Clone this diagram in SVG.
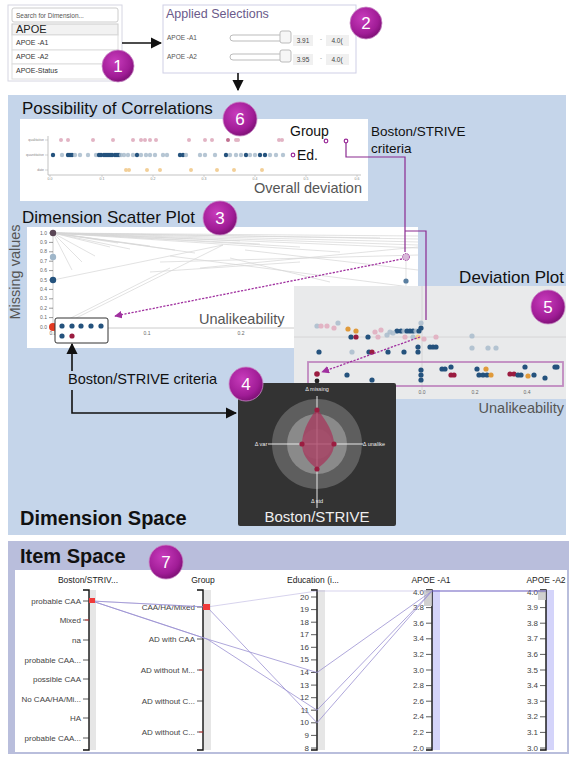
<svg xmlns="http://www.w3.org/2000/svg" width="571" height="757" viewBox="0 0 571 757">
<defs>
<radialGradient id="bg" cx="40%" cy="35%" r="70%">
<stop offset="0" stop-color="#c83cbc"/><stop offset="0.7" stop-color="#a01c96"/><stop offset="1" stop-color="#780e70"/>
</radialGradient>
<marker id="ah" viewBox="0 0 10 10" refX="9" refY="5" markerWidth="7" markerHeight="7" orient="auto-start-reverse"><path d="M0,0 L10,5 L0,10 Z" fill="#111"/></marker>
<marker id="ap" viewBox="0 0 10 10" refX="9" refY="5" markerWidth="6" markerHeight="6" orient="auto"><path d="M0,0 L10,5 L0,10 Z" fill="#a0309f"/></marker>
<style>
text{font-family:"Liberation Sans",Arial,sans-serif}
.badge circle{fill:url(#bg);stroke:#c98ac6;stroke-width:0.8}
.badge text{fill:#fff;font-size:17px;text-anchor:middle}
.ttl{font-size:17px;fill:#111}
.big{font-size:20px;font-weight:bold;fill:#111}
.gl{font-size:14.5px;fill:#555}
.tiny{font-size:3.5px;fill:#888}
.sm{font-size:5px;fill:#666}
.db{fill:#24527d}.lb{fill:#a9bccd;opacity:.85}.rd{fill:#9b1c40}.or{fill:#e09a3a}.pk{fill:#e2b4c4}.yl{fill:#f2cf98}
.gline{stroke:#d6d6d6;stroke-width:0.7;fill:none}
.pc{stroke:#9a90d2;stroke-width:0.8;fill:none}
.ax{stroke:#111;stroke-width:1.4;fill:none}
.tk{stroke:#333;stroke-width:0.8}
.lab{font-size:8px;fill:#444;text-anchor:end}
.hd{font-size:8.5px;fill:#222;text-anchor:middle}
.blk{stroke:#111;stroke-width:1.6;fill:none}
.pur{stroke:#8a2a90;stroke-width:1.2;fill:none}
.dot{stroke:#a0309f;stroke-width:1.3;fill:none;stroke-dasharray:2.2 1.4}
.rl{font-size:5.5px;fill:#eee;text-anchor:middle}
</style>
</defs>
<rect width="571" height="757" fill="#fff"/>

<g id="search-panel">
<rect x="8" y="5" width="114" height="76" fill="#fff" stroke="#d6d6e2"/>
<rect x="12" y="8" width="106" height="14" rx="2" fill="#fff" stroke="#ccc"/>
<text x="16" y="17.5" font-size="6.5" fill="#555">Search for Dimension...</text>
<rect x="12" y="24" width="106" height="11" fill="#f2f2f2" stroke="#ccc"/>
<text x="16" y="32.5" font-size="11" fill="#222">APOE</text>
<rect x="12" y="35" width="106" height="15" fill="#fff" stroke="#ddd"/>
<text x="16" y="45" font-size="7" fill="#333">APOE -A1</text>
<rect x="12" y="50" width="106" height="14" fill="#fff" stroke="#ddd"/>
<text x="16" y="59" font-size="7" fill="#333">APOE -A2</text>
<rect x="12" y="64" width="106" height="15" fill="#fff" stroke="#ddd"/>
<text x="16" y="73" font-size="7" fill="#333">APOE-Status</text>
</g>

<g id="applied-selections">
<rect x="163" y="5" width="193" height="68" fill="#fff" stroke="#cfcfe6"/>
<text x="166" y="18" font-size="12.5" fill="#6a5a8a">Applied Selections</text>
<text x="167" y="40" font-size="6.5" fill="#555">APOE -A1</text>
<rect x="230" y="35" width="55" height="6" rx="3" fill="#fff" stroke="#bbb"/>
<rect x="280" y="31" width="11" height="12" rx="2" fill="#f6f6f6" stroke="#bbb"/>
<rect x="293" y="35" width="20" height="11" fill="#f0f0f0"/>
<text x="303" y="43" font-size="6.5" fill="#444" text-anchor="middle">3.91</text>
<text x="321" y="41" font-size="6" fill="#777" text-anchor="middle">-</text>
<rect x="326" y="35" width="23" height="11" fill="#f0f0f0"/>
<text x="337" y="43" font-size="6.5" fill="#444" text-anchor="middle">4.0(</text>
<text x="167" y="59" font-size="6.5" fill="#555">APOE -A2</text>
<rect x="230" y="54" width="55" height="6" rx="3" fill="#fff" stroke="#bbb"/>
<rect x="280" y="50" width="11" height="12" rx="2" fill="#f6f6f6" stroke="#bbb"/>
<rect x="293" y="54" width="20" height="11" fill="#f0f0f0"/>
<text x="303" y="62" font-size="6.5" fill="#444" text-anchor="middle">3.95</text>
<text x="321" y="60" font-size="6" fill="#777" text-anchor="middle">-</text>
<rect x="326" y="54" width="23" height="11" fill="#f0f0f0"/>
<text x="337" y="62" font-size="6.5" fill="#444" text-anchor="middle">4.0(</text>
</g>

<g id="dimension-space">
<rect x="8" y="95" width="558" height="440" fill="#c5d5ea"/>
<text class="big" x="20" y="525">Dimension Space</text>
</g>

<g id="correlations">
<text class="ttl" x="22" y="114">Possibility of Correlations</text>
<rect x="20" y="119" width="348" height="82" fill="#fff"/>
<path d="M48,136 V175 H361" stroke="#aaa" stroke-width="0.7" fill="none"/>
<path d="M45,140 H48 M45,155 H48 M45,170 H48 M50,175 V177 M102,175 V177 M153,175 V177 M204,175 V177 M255,175 V177 M306,175 V177 M357,175 V177" stroke="#aaa" stroke-width="0.5"/>
<text class="tiny" x="44" y="141" text-anchor="end">qualitative</text>
<text class="tiny" x="44" y="156" text-anchor="end">quantitative</text>
<text class="tiny" x="44" y="171" text-anchor="end">date</text>
<g class="tiny" text-anchor="middle">
<text x="50" y="180">0.0</text><text x="102" y="180">0.1</text><text x="153" y="180">0.2</text><text x="204" y="180">0.3</text><text x="255" y="180">0.4</text><text x="306" y="180">0.5</text><text x="357" y="180">0.6</text>
</g>
<g class="pk">
<circle cx="61" cy="140" r="2"/><circle cx="68" cy="140" r="2"/><circle cx="93" cy="140" r="2"/><circle cx="113" cy="140" r="2"/><circle cx="133" cy="140" r="2"/><circle cx="141" cy="140" r="2"/><circle cx="145" cy="140" r="2"/><circle cx="150" cy="140" r="2"/><circle cx="156" cy="140" r="2"/><circle cx="189" cy="140" r="2"/><circle cx="205" cy="140" r="2"/><circle cx="212" cy="140" r="2"/><circle cx="236" cy="140" r="2"/><circle cx="238" cy="140" r="2"/><circle cx="279" cy="140" r="2"/><circle cx="282" cy="140" r="2"/>
</g>
<circle cx="228" cy="140" r="2" fill="#c07090"/>
<g>
<circle class="db" cx="53" cy="155" r="2.2"/><circle class="lb" cx="62" cy="155" r="2.2"/><circle class="db" cx="68" cy="155" r="2.2"/><circle class="db" cx="70" cy="155" r="2.2"/><circle class="db" cx="72" cy="155" r="2.2"/><circle class="lb" cx="75" cy="155" r="2.2"/><circle class="lb" cx="80" cy="155" r="2.2"/><circle class="lb" cx="88" cy="155" r="2.2"/><circle class="lb" cx="96" cy="155" r="2.2"/><circle class="db" cx="99" cy="155" r="2.2"/><circle class="db" cx="101" cy="155" r="2.2"/><circle class="db" cx="104" cy="155" r="2.2"/><circle class="db" cx="106" cy="155" r="2.2"/><circle class="db" cx="108" cy="155" r="2.2"/><circle class="db" cx="110" cy="155" r="2.2"/><circle class="db" cx="112" cy="155" r="2.2"/><circle class="db" cx="115" cy="155" r="2.2"/><circle class="db" cx="117" cy="155" r="2.2"/><circle class="db" cx="119" cy="155" r="2.2"/><circle class="lb" cx="121" cy="155" r="2.2"/><circle class="lb" cx="124" cy="155" r="2.2"/><circle class="lb" cx="128" cy="155" r="2.2"/><circle class="lb" cx="133" cy="155" r="2.2"/><circle class="db" cx="137" cy="155" r="2.2"/><circle class="lb" cx="141" cy="155" r="2.2"/><circle class="lb" cx="146" cy="155" r="2.2"/><circle class="lb" cx="150" cy="155" r="2.2"/><circle class="lb" cx="155" cy="155" r="2.2"/><circle class="lb" cx="163" cy="155" r="2.2"/><circle class="lb" cx="167" cy="155" r="2.2"/><circle class="db" cx="180" cy="155" r="2.2"/><circle class="db" cx="183" cy="155" r="2.2"/><circle class="lb" cx="186" cy="155" r="2.2"/><circle class="lb" cx="200" cy="155" r="2.2"/><circle class="lb" cx="205" cy="155" r="2.2"/><circle class="lb" cx="215" cy="155" r="2.2"/><circle class="db" cx="226" cy="155" r="2.2"/><circle class="lb" cx="230" cy="155" r="2.2"/><circle class="lb" cx="236" cy="155" r="2.2"/><circle class="lb" cx="241" cy="155" r="2.2"/><circle class="db" cx="246" cy="155" r="2.2"/><circle class="lb" cx="250" cy="155" r="2.2"/><circle class="lb" cx="255" cy="155" r="2.2"/><circle class="db" cx="260" cy="155" r="2.2"/><circle class="db" cx="265" cy="155" r="2.2"/><circle class="lb" cx="270" cy="155" r="2.2"/><circle class="lb" cx="276" cy="155" r="2.2"/><circle class="lb" cx="283" cy="155" r="2.2"/>
</g>
<g class="yl">
<circle cx="126" cy="170" r="2"/><circle cx="129" cy="170" r="2"/><circle cx="147" cy="170" r="2"/><circle cx="160" cy="170" r="2"/><circle cx="191" cy="170" r="2"/><circle cx="217" cy="170" r="2"/><circle cx="234" cy="170" r="2"/><circle cx="262" cy="170" r="2"/>
</g>
<text x="290" y="136" font-size="14" fill="#111">Group</text>
<circle cx="326" cy="141" r="1.8" fill="#fff" stroke="#9a2a98" stroke-width="1.2"/>
<circle cx="346" cy="141" r="1.8" fill="#fff" stroke="#9a2a98" stroke-width="1.2"/>
<circle cx="293" cy="155" r="1.8" fill="#fff" stroke="#9a2a98" stroke-width="1.2"/>
<text x="297" y="160" font-size="14" fill="#111">Ed.</text>
<text class="gl" x="362" y="193" text-anchor="end">Overall deviation</text>
<text x="371" y="136" font-size="13.5" fill="#111">Boston/STRIVE</text>
<text x="371" y="153" font-size="13.5" fill="#111">criteria</text>
</g>

<g id="scatter-plot">
<text class="ttl" x="22" y="223">Dimension Scatter Plot</text>
<text class="gl" x="20" y="272" text-anchor="middle" transform="rotate(-90 20 272)" fill="#777">Missing values</text>
<rect x="27" y="227" width="391" height="121" fill="#fff"/>
<g class="gline">
<path d="M53,233 L418,236 M53,233 L418,239 M53,233 L418,242 M53,233 L418,245 M53,233 L418,248 M53,233 L340,252 M53,233 L300,247 M53,233 L260,244 M53,233 L195,253 M53,233 L175,250 M53,233 L150,246 M53,233 L130,249 M53,233 L110,247 M53,233 L95,256 M53,233 L82,262 M53,233 L72,270 M53,233 L118,243 M53,233 L240,241 M53,233 L380,238"/>
<path d="M53,280 L223,245 M62,325 L223,245 M160,262 L418,255 M200,268 L418,247 M170,256 L418,288 M230,258 L330,282 M245,250 L418,270 M150,272 L300,262 M53,327 L170,268 M406,257 V348"/>
</g>
<path d="M53,233 V328 H294" stroke="#ccc" stroke-width="1" fill="none"/>
<path d="M49,233 H53 M49,242.4 H53 M49,251.8 H53 M49,261.2 H53 M49,270.6 H53 M49,280 H53 M49,289.4 H53 M49,298.8 H53 M49,308.2 H53 M49,317.6 H53 M49,327 H53" stroke="#555" stroke-width="0.6"/>
<g class="sm" text-anchor="end">
<text x="47" y="234.5">1.0</text><text x="47" y="243.9">0.9</text><text x="47" y="253.3">0.8</text><text x="47" y="262.7">0.7</text><text x="47" y="272.1">0.6</text><text x="47" y="281.5">0.5</text><text x="47" y="290.9">0.4</text><text x="47" y="300.3">0.3</text><text x="47" y="309.7">0.2</text><text x="47" y="319.1">0.1</text><text x="47" y="328.5">0.0</text>
</g>
<g class="sm" text-anchor="middle"><text x="53" y="335">0.0</text><text x="147" y="335">0.1</text><text x="241" y="335">0.2</text></g>
<text class="gl" x="199" y="324">Unalikeability</text>
<circle cx="53" cy="233" r="3.2" fill="#5a4656"/>
<circle cx="53" cy="257" r="3.2" fill="#9fb6c9"/>
<circle cx="53" cy="280" r="3.2" class="db"/>
<circle cx="53" cy="327" r="4" fill="#e23a22"/>
<circle cx="406" cy="281" r="2.6" fill="#5a7fa0"/>
<circle cx="406" cy="257" r="3.5" fill="#d8b8d8" stroke="#a040a0" stroke-width="1" stroke-dasharray="1.5 1"/>
</g>

<g id="deviation-plot">
<text class="ttl" x="564" y="283" text-anchor="end">Deviation Plot</text>
<rect x="294" y="286" width="272" height="113" fill="#e9eaeb"/>
<path d="M294,337 H566 M422,286 V390" stroke="#d0d0d0" stroke-width="0.8"/>
<g>
<circle class="lb" cx="317" cy="326" r="2.6"/><circle class="pk" cx="321" cy="326" r="2.6"/><circle class="pk" cx="327" cy="326" r="2.6"/><circle class="pk" cx="334" cy="328" r="2.6"/><circle class="lb" cx="338" cy="323" r="2.6"/><circle class="or" cx="348" cy="329" r="2.6"/><circle class="or" cx="356" cy="331" r="2.6"/><circle class="pk" cx="375" cy="332" r="2.6"/><circle class="pk" cx="381" cy="330" r="2.6"/><circle class="lb" cx="390" cy="332" r="2.6"/>
<circle class="db" cx="397" cy="331" r="2.6"/><circle class="db" cx="401" cy="331" r="2.6"/><circle class="lb" cx="404" cy="331" r="2.6"/><circle class="db" cx="407" cy="331" r="2.6"/><circle class="db" cx="410" cy="331" r="2.6"/><circle class="db" cx="413" cy="331" r="2.6"/><circle class="lb" cx="416" cy="331" r="2.6"/><circle class="db" cx="419" cy="331" r="2.6"/><circle class="db" cx="421" cy="328" r="2.6"/><circle class="lb" cx="421" cy="323" r="2.6"/>
<circle class="db" cx="351" cy="337" r="2.6"/><circle class="rd" cx="356" cy="337" r="2.6"/><circle class="db" cx="368" cy="337" r="2.6"/><circle class="pk" cx="378" cy="337" r="2.6"/><circle class="lb" cx="387" cy="335" r="2.6"/><circle class="lb" cx="393" cy="333" r="2.6"/><circle class="pk" cx="405" cy="337" r="2.6"/><circle class="lb" cx="413" cy="337" r="2.6"/><circle class="yl" cx="418" cy="337" r="2.6"/><circle class="pk" cx="424" cy="339" r="2.6"/><circle class="pk" cx="436" cy="337" r="2.6"/><circle class="lb" cx="472" cy="336" r="2.6"/>
<circle class="db" cx="418" cy="347" r="2.6"/><circle class="db" cx="430" cy="347" r="2.6"/><circle class="db" cx="433" cy="347" r="2.6"/><circle class="db" cx="436" cy="347" r="2.6"/><circle class="lb" cx="472" cy="348" r="2.6"/><circle class="lb" cx="488" cy="348" r="2.6"/><circle class="lb" cx="496" cy="348" r="2.6"/>
<circle class="db" cx="319" cy="352" r="2.6"/><circle class="lb" cx="352" cy="352" r="2.6"/><circle class="db" cx="369" cy="352" r="2.6"/><circle class="rd" cx="372" cy="352" r="2.6"/><circle class="db" cx="388" cy="352" r="2.6"/><circle class="db" cx="404" cy="352" r="2.6"/><circle class="db" cx="418" cy="352" r="2.6"/>
</g>
<rect x="308" y="362" width="255" height="24" fill="none" stroke="#c08ac0" stroke-width="1.8"/>
<g>
<circle class="db" cx="421" cy="370" r="2.6"/><circle class="db" cx="442" cy="369" r="2.6"/><circle class="db" cx="445" cy="369" r="2.6"/><circle class="db" cx="451" cy="367" r="2.6"/><circle class="db" cx="477" cy="369" r="2.6"/><circle class="or" cx="486" cy="369" r="2.6"/><circle class="db" cx="525" cy="367" r="2.6"/><circle class="db" cx="555" cy="367" r="2.6"/><circle class="db" cx="557" cy="367" r="2.6"/>
<circle class="rd" cx="317" cy="374" r="2.8"/><circle class="db" cx="347" cy="375" r="2.6"/><circle class="db" cx="421" cy="375" r="2.6"/><circle class="rd" cx="451" cy="375" r="2.6"/><circle class="rd" cx="454" cy="375" r="2.6"/><circle class="db" cx="479" cy="375" r="2.6"/><circle class="db" cx="483" cy="375" r="2.6"/><circle class="db" cx="487" cy="375" r="2.6"/><circle class="or" cx="491" cy="375" r="2.6"/><circle class="rd" cx="510" cy="374" r="2.6"/><circle class="rd" cx="514" cy="374" r="2.6"/><circle class="db" cx="518" cy="375" r="2.6"/><circle class="db" cx="521" cy="375" r="2.6"/><circle class="or" cx="528" cy="376" r="2.6"/><circle class="db" cx="534" cy="375" r="2.6"/>
<circle class="db" cx="372" cy="380" r="2.6"/><circle class="db" cx="421" cy="380" r="2.6"/><circle class="db" cx="545" cy="378" r="2.6"/><circle cx="317" cy="381" r="2.4" fill="#222"/>
</g>
<g class="sm" text-anchor="middle"><text x="422" y="394">0.0</text><text x="475" y="394">0.2</text><text x="527" y="394">0.4</text></g>
<text class="gl" x="564" y="413" text-anchor="end">Unalikeability</text>
</g>

<g id="radar">
<rect x="238" y="383" width="158" height="143" rx="2" fill="#333"/>
<circle cx="317" cy="444" r="45" fill="#5e5e5e"/>
<circle cx="317" cy="444" r="30" fill="#8a8a8a"/>
<circle cx="317" cy="444" r="15" fill="#979797"/>
<path d="M317,396 V508 M268,444 H363" stroke="#e6e6e6" stroke-width="1"/>
<path d="M317,409 C327,421 334,434 334,444 C334,454 327,461 317,469 C307,461 302,454 302,444 C302,434 307,421 317,409 Z" fill="#a8335a" fill-opacity="0.72"/>
<g fill="#9b1c40"><circle cx="317" cy="410" r="2.6"/><circle cx="334" cy="444" r="2.6"/><circle cx="317" cy="469" r="2.6"/><circle cx="302" cy="444" r="2.6"/></g>
<text class="rl" x="317" y="391">Δ missing</text>
<text class="rl" x="317" y="503">Δ std</text>
<text class="rl" x="261" y="446">Δ var</text>
<text class="rl" x="374" y="446">Δ unalike</text>
<text x="317" y="522" font-size="15" fill="#eee" text-anchor="middle">Boston/STRIVE</text>
</g>

<g id="item-space">
<rect x="8" y="541" width="561" height="213" fill="#b9bedc"/>
<text class="big" x="20" y="563">Item Space</text>
<rect x="15" y="570" width="552" height="182" fill="#fff"/>
<rect x="89" y="590" width="7" height="160" fill="#e6e6e6"/>
<rect x="203" y="590" width="8" height="160" fill="#e6e6e6"/>
<rect x="317" y="590" width="8" height="160" fill="#e6e6e6"/>
<rect x="432" y="590" width="8" height="160" fill="#d4d4fa"/>
<rect x="546" y="590" width="8" height="160" fill="#d4d4fa"/>
<text class="hd" x="88" y="583">Boston/STRIV...</text>
<text class="hd" x="203" y="583">Group</text>
<text class="hd" x="313" y="583">Education (i...</text>
<text class="hd" x="431" y="583">APOE -A1</text>
<text class="hd" x="546" y="583">APOE -A2</text>
<path class="ax" d="M83,590 H89 V750 H83"/>
<path class="ax" d="M197,590 H203 V750 H197"/>
<path class="ax" d="M311,590 H317 V750 H311"/>
<path class="ax" d="M426,590 H432 V750 H426" stroke="#3a3460"/>
<path class="ax" d="M540,590 H546 V750 H540" stroke="#3a3460"/>
<path class="tk" d="M83,601 H89 M83,620 H89 M83,640 H89 M83,660 H89 M83,679 H89 M83,699 H89 M83,718 H89 M83,738 H89"/>
<path class="tk" d="M197,607 H203 M197,639 H203 M197,670 H203 M197,701 H203 M197,732 H203"/>
<path class="tk" d="M311,597 H317 M311,609.6 H317 M311,622.2 H317 M311,634.7 H317 M311,647.3 H317 M311,659.9 H317 M311,672.5 H317 M311,685.1 H317 M311,697.7 H317 M311,710.2 H317 M311,722.8 H317 M311,735.4 H317 M311,748 H317"/>
<path class="tk" d="M426,592 H432 M426,607.6 H432 M426,623.2 H432 M426,638.8 H432 M426,654.4 H432 M426,670 H432 M426,685.6 H432 M426,701.2 H432 M426,716.8 H432 M426,732.4 H432 M426,748 H432"/>
<path class="tk" d="M540,592 H546 M540,607.6 H546 M540,623.2 H546 M540,638.8 H546 M540,654.4 H546 M540,670 H546 M540,685.6 H546 M540,701.2 H546 M540,716.8 H546 M540,732.4 H546 M540,748 H546"/>
<g class="lab">
<text x="81" y="603.5">probable CAA</text><text x="81" y="622.5">Mixed</text><text x="81" y="642.5">na</text><text x="81" y="662.5">probable CAA...</text><text x="81" y="681.5">possible CAA</text><text x="81" y="701.5">No CAA/HA/Mi...</text><text x="81" y="720.5">HA</text><text x="81" y="740.5">probable CAA...</text>
<text x="195" y="609.5">CAA/HA/Mixed</text><text x="195" y="641.5">AD with CAA</text><text x="195" y="672.5">AD without M...</text><text x="195" y="703.5">AD without C...</text><text x="195" y="734.5">AD without C...</text>
</g>
<g class="lab" font-size="7.5">
<text x="309" y="599.5">20</text><text x="309" y="612">19</text><text x="309" y="624.7">18</text><text x="309" y="637.2">17</text><text x="309" y="649.8">16</text><text x="309" y="662.4">15</text><text x="309" y="675">14</text><text x="309" y="687.6">13</text><text x="309" y="700.2">12</text><text x="309" y="712.7">11</text><text x="309" y="725.3">10</text><text x="309" y="737.9">9</text><text x="309" y="750.5">8</text>
<text x="424" y="594.5">4.0</text><text x="424" y="610">3.8</text><text x="424" y="625.7">3.6</text><text x="424" y="641.3">3.4</text><text x="424" y="656.9">3.2</text><text x="424" y="672.5">3.0</text><text x="424" y="688.1">2.8</text><text x="424" y="703.7">2.6</text><text x="424" y="719.3">2.4</text><text x="424" y="734.9">2.2</text><text x="424" y="750.5">2.0</text>
<text x="538" y="594.5">4.0</text><text x="538" y="610">3.9</text><text x="538" y="625.7">3.8</text><text x="538" y="641.3">3.7</text><text x="538" y="656.9">3.6</text><text x="538" y="672.5">3.5</text><text x="538" y="688.1">3.4</text><text x="538" y="703.7">3.3</text><text x="538" y="719.3">3.2</text><text x="538" y="734.9">3.1</text><text x="538" y="750.5">3.0</text>
</g>
<rect x="424" y="590" width="8" height="16" fill="#c8c8c8" fill-opacity="0.85"/>
<rect x="538" y="590" width="8" height="10" fill="#c8c8c8" fill-opacity="0.85"/>
<g>
<path class="pc" d="M92,601 L207,607 L317,591 L432,591" stroke-opacity="0.5"/>
<path class="pc" d="M92,601 L207,639 L317,672.5 L432,591"/>
<path class="pc" d="M92,601 L207,607 L317,722.8 L432,591"/>
<path class="pc" d="M92,601 L207,639 L317,710.2 L432,591"/>
<path d="M432,591 H546" stroke="#6a5cc0" stroke-width="1.1"/>
</g>
<rect x="89" y="598" width="6" height="5" fill="#f03a3a"/>
<rect x="203" y="604" width="7" height="6" fill="#f03a3a"/>
<path d="M85,620 H89" stroke="#e03030" stroke-width="0.8"/>
<path d="M199,670 H203 M199,732 H203" stroke="#e03030" stroke-width="0.8"/>
</g>

<g id="connectors">
<line class="blk" x1="122" y1="43" x2="161" y2="43" marker-end="url(#ah)"/>
<line class="blk" x1="238" y1="73" x2="238" y2="90" marker-end="url(#ah)"/>
<line class="blk" x1="72" y1="371" x2="72" y2="344" marker-end="url(#ah)"/>
<text x="68" y="384" font-size="14.5" fill="#111">Boston/STRIVE criteria</text>
<polyline class="blk" points="72,390 72,413 236,413" marker-end="url(#ah)"/>
<rect x="55" y="318" width="53" height="25" rx="2" fill="#fff" stroke="#333" stroke-width="1"/>
<g>
<circle class="db" cx="62" cy="326" r="2.6"/><circle class="db" cx="72" cy="326" r="2.6"/><circle class="db" cx="81" cy="326" r="2.6"/><circle class="db" cx="91" cy="326" r="2.6"/><circle class="db" cx="101" cy="326" r="2.6"/>
<circle class="db" cx="62" cy="336" r="2.6"/><circle class="rd" cx="72" cy="336" r="2.6"/>
</g>
<path class="pur" d="M346,143 V157 H405 V252"/>
<path class="pur" d="M405,231 H426 V320"/>
<line class="dot" x1="402" y1="259" x2="115" y2="316" marker-end="url(#ap)"/>
<line class="dot" x1="420" y1="337" x2="322" y2="372" marker-end="url(#ap)"/>
</g>

<g id="badge-1" class="badge"><circle cx="118" cy="66" r="16"/><text x="118" y="72">1</text></g>
<g id="badge-2" class="badge"><circle cx="366" cy="23" r="16"/><text x="366" y="29">2</text></g>
<g id="badge-6" class="badge"><circle cx="240" cy="119" r="17"/><text x="240" y="125">6</text></g>
<g id="badge-3" class="badge"><circle cx="220" cy="218" r="17"/><text x="220" y="224">3</text></g>
<g id="badge-5" class="badge"><circle cx="548" cy="307" r="17"/><text x="548" y="313">5</text></g>
<g id="badge-4" class="badge"><circle cx="246" cy="384" r="17"/><text x="246" y="390">4</text></g>
<g id="badge-7" class="badge"><circle cx="166" cy="562" r="17"/><text x="166" y="568">7</text></g>
</svg>
